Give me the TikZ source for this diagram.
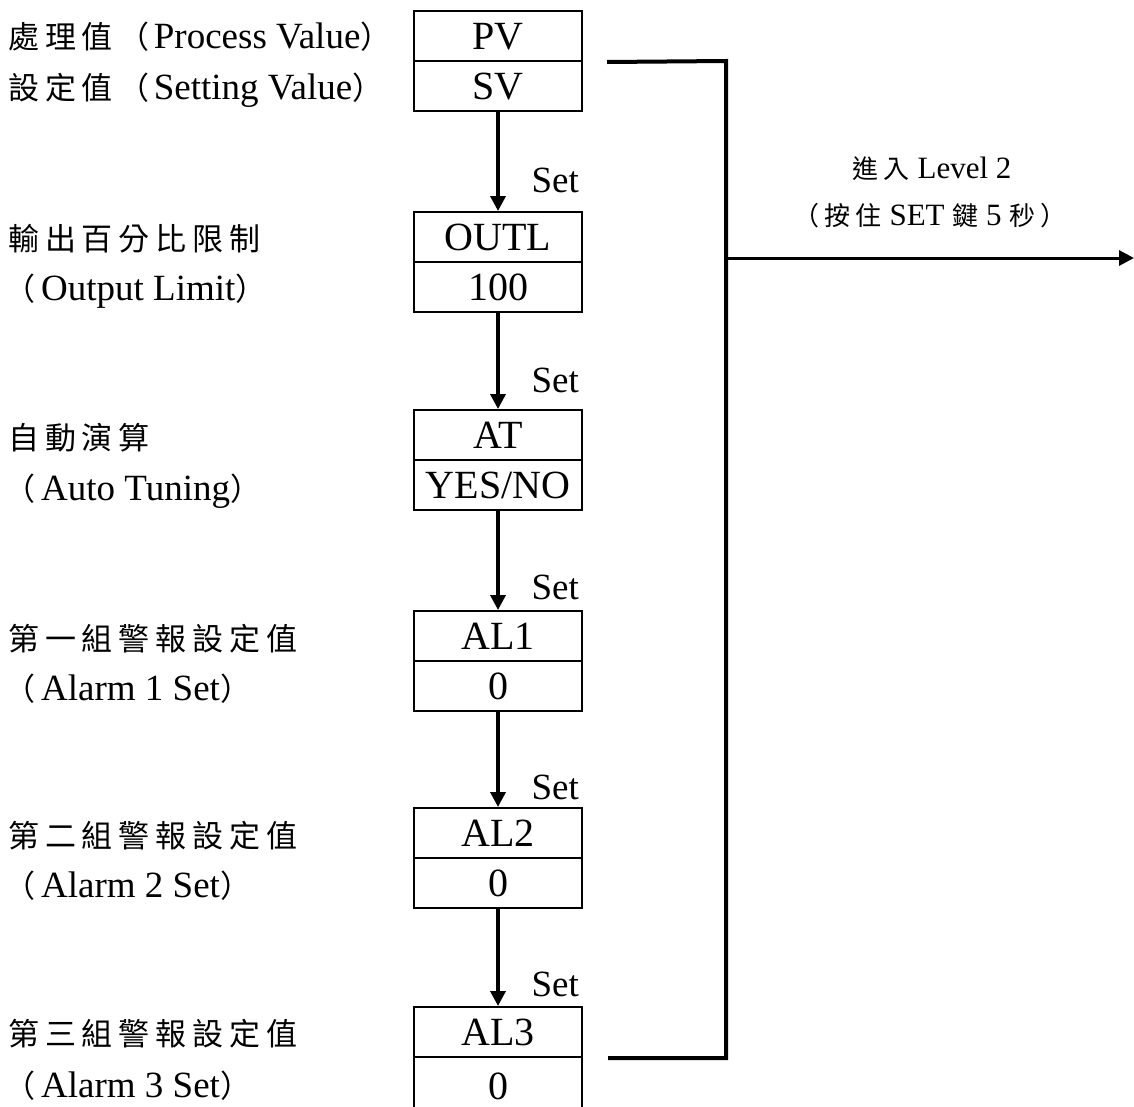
\documentclass[tikz,border=0pt]{standalone}
\usepackage{fontspec}
\setmainfont{Liberation Serif}
\newfontfamily\cjk[LetterSpace=19]{Noto Sans CJK TC}
\newfontfamily\cjkr[LetterSpace=20]{Noto Sans CJK TC}
\usetikzlibrary{arrows.meta}
\newcommand\ZH[1]{{\cjk\fontsize{31}{36}\selectfont #1}}
\newcommand\ZR[1]{{\cjkr\fontsize{26}{30}\selectfont #1}}
\newcommand\LP{\ZH{（}\hspace{6pt}}
\begin{document}
\begin{tikzpicture}[x=1pt,y=-1pt,
  cell/.style={draw,line width=2pt,minimum width=168pt,minimum height=50pt,inner sep=0pt,
    text height=26.5pt,text depth=0pt,font=\fontsize{40}{44}\selectfont},
  lbl/.style={anchor=base west,inner sep=0pt,font=\fontsize{37}{40}\selectfont},
  setlbl/.style={anchor=base east,inner sep=0pt,font=\fontsize{37}{40}\selectfont},
  rlbl/.style={anchor=base,inner sep=0pt,font=\fontsize{31}{34}\selectfont},
  flow/.style={line width=3.5pt,-{Triangle[length=15pt,width=15pt]}},
  bracket/.style={line width=4pt}]
\useasboundingbox (0,0) rectangle (1134,1106);

% boxes
\node[cell] (pv)    at (498,36)   {PV};
\node[cell] (sv)    at (498,86)   {SV};
\node[cell] (outl)  at (498,237)  {OUTL};
\node[cell] (outlv) at (498,287)  {100};
\node[cell] (at)    at (498,435)  {AT};
\node[cell] (atv)   at (498,485)  {YES/NO};
\node[cell] (al1)   at (498,636)  {AL1};
\node[cell] (al1v)  at (498,686)  {0};
\node[cell] (al2)   at (498,833)  {AL2};
\node[cell] (al2v)  at (498,883)  {0};
\node[cell] (al3)   at (498,1032) {AL3};
\node[cell,minimum height=58pt] (al3v) at (498,1086) {0};

% left labels
\node[lbl] (l1)  at (8,48)   {\ZH{處理值（}\hspace{4pt}Process Value\ZH{）}};
\node[lbl] (l2)  at (8,99)   {\ZH{設定值（}\hspace{4pt}Setting Value\ZH{）}};
\node[lbl] (l3)  at (8,250)  {\ZH{輸出百分比限制}};
\node[lbl] (l4)  at (4,300)  {\LP Output Limit\ZH{）}};
\node[lbl] (l5)  at (8,449)  {\ZH{自動演算}};
\node[lbl] (l6)  at (4,500)  {\LP Auto Tuning\ZH{）}};
\node[lbl] (l7)  at (8,650)  {\ZH{第一組警報設定值}};
\node[lbl] (l8)  at (4,700)  {\LP Alarm 1 Set\ZH{）}};
\node[lbl] (l9)  at (8,847)  {\ZH{第二組警報設定值}};
\node[lbl] (l10) at (4,897)  {\LP Alarm 2 Set\ZH{）}};
\node[lbl] (l11) at (8,1045) {\ZH{第三組警報設定值}};
\node[lbl] (l12) at (4,1097) {\LP Alarm 3 Set\ZH{）}};

% flow arrows
\draw[flow] (sv.south)    -- (outl.north);
\draw[flow] (outlv.south) -- (at.north);
\draw[flow] (atv.south)   -- (al1.north);
\draw[flow] (al1v.south)  -- (al2.north);
\draw[flow] (al2v.south)  -- (al3.north);

\node[setlbl] (s1) at (579,192) {Set};
\node[setlbl] (s2) at (579,392) {Set};
\node[setlbl] (s3) at (579,599) {Set};
\node[setlbl] (s4) at (579,799) {Set};
\node[setlbl] (s5) at (579,996) {Set};

% right bracket
\coordinate (rt) at (726,61);
\coordinate (rb) at (726,1058);
\coordinate (rj) at (726,258);
\coordinate (rout) at (1134,258);
\draw[bracket] ([xshift=24pt]pv.south east) -- (rt) -- (rb) -- ([xshift=25pt]al3.south east);
\draw[flow,line width=3pt] (rj) -- (rout);

\node[rlbl] (lv2a) at (932,178) {\ZR{進入} Level 2};
\node[rlbl] (lv2b) at (930,225) {\ZR{（按住} SET \ZR{鍵} 5 \ZR{秒）}};
\end{tikzpicture}
\end{document}
